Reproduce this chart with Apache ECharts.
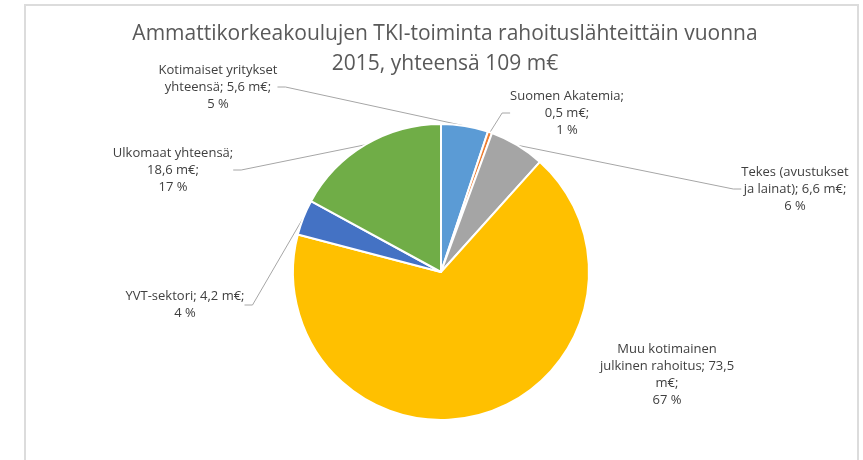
<!DOCTYPE html>
<html><head><meta charset="utf-8">
<script src="https://cdn.jsdelivr.net/npm/echarts@6/dist/echarts.min.js"></script>
<style>html,body{margin:0;padding:0;background:#fff}#c{width:863px;height:460px}</style>
</head><body><div id="c"></div>
<script>
const titleText = 'Ammattikorkeakoulujen TKI-toiminta rahoituslähteittäin vuonna\n2015, yhteensä 109 m€';
const categories = ['Kotimaiset yritykset yhteensä', 'Suomen Akatemia', 'Tekes (avustukset ja lainat)', 'Muu kotimainen julkinen rahoitus', 'YVT-sektori', 'Ulkomaat yhteensä'];
const values = [5.6, 0.5, 6.6, 73.5, 4.2, 18.6];
const percents = ['5 %', '1 %', '6 %', '67 %', '4 %', '17 %'];
const labelTexts = [
  'Kotimaiset yritykset\nyhteensä; 5,6 m€;\n5 %',
  'Suomen Akatemia;\n0,5 m€;\n1 %',
  'Tekes (avustukset\nja lainat); 6,6 m€;\n6 %',
  'Muu kotimainen\njulkinen rahoitus; 73,5\nm€;\n67 %',
  'YVT-sektori; 4,2 m€;\n4 %',
  'Ulkomaat yhteensä;\n18,6 m€;\n17 %'
];
const colors = ['#5B9BD5', '#ED7D31', '#A5A5A5', '#FFC000', '#4472C4', '#70AD47'];
const labelPos = [[218, 87], [567, 113], [795, 189], [667, 375], [185, 305], [173, 170]];
const showLine = [true, true, true, false, true, true];

const chart = echarts.init(document.getElementById('c'), null, {renderer: 'canvas'});
chart.setOption({
  animation: false,
  color: colors,
  graphic: [{
    type: 'rect', shape: {x: 25, y: 5, width: 833, height: 470},
    style: {fill: 'none', stroke: '#dcdcdc', lineWidth: 2}, silent: true
  }],
  title: {
    text: titleText, left: 440, top: 14, textAlign: 'center',
    textStyle: {fontFamily: 'Open Sans', fontSize: 21, fontWeight: 'normal', color: '#595959', lineHeight: 30}
  },
  series: [{
    type: 'pie',
    center: [441, 272],
    radius: 148,
    startAngle: 90,
    clockwise: true,
    itemStyle: {borderColor: '#fff', borderWidth: 2},
    label: {
      show: true,
      formatter: p => labelTexts[p.dataIndex],
      fontFamily: 'Open Sans', fontSize: 13, color: '#404040', lineHeight: 17, align: 'center'
    },
    labelLine: {show: true, length: 15, length2: 8, lineStyle: {color: '#a6a6a6', width: 1}},
    labelLayout: function (params) {
      const p = labelPos[params.dataIndex];
      return {x: p[0], y: p[1], align: 'center', verticalAlign: 'middle'};
    },
    data: categories.map((c, i) => ({name: c, value: values[i], labelLine: {show: showLine[i]}}))
  }]
});
</script></body></html>
